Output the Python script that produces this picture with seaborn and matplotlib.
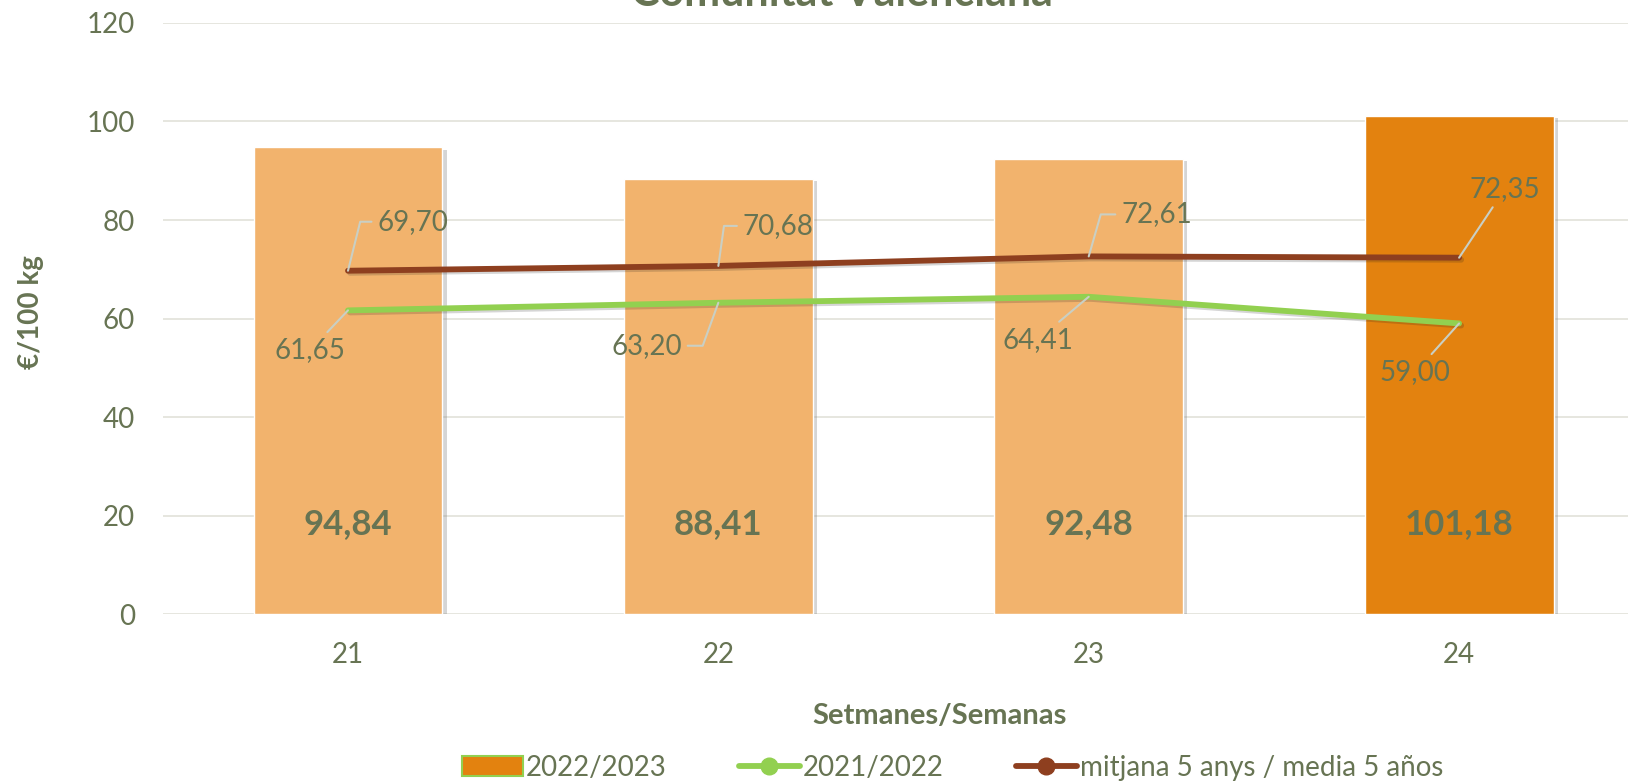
import matplotlib
matplotlib.use("Agg")
import matplotlib.pyplot as plt
import matplotlib.patheffects as pe
from matplotlib.patches import Patch
from matplotlib.lines import Line2D
import numpy as np
import pandas as pd
import seaborn as sns

# ── Data ────────────────────────────────────────────────────────────────────
weeks = ["21", "22", "23", "24"]
price_2223 = [94.84, 88.41, 92.48, 101.18]
price_2122 = [61.65, 63.20, 64.41, 59.00]
avg_5y = [69.70, 70.68, 72.61, 72.35]

TITLE = "Comunitat Valenciana"
SERIES = ["2022/2023", "2021/2022", "mitjana 5 anys / media 5 años"]

# ── Style ───────────────────────────────────────────────────────────────────
TXT = "#677453"
BAR_LIGHT = "#F2B36D"
BAR_DARK = "#E3820F"
GREEN = "#92D050"
BROWN = "#8E3F1F"
LEADER = "#C9CFC4"

sns.set_theme(style="white")
plt.rcParams["font.family"] = ["Lato", "DejaVu Sans"]

fig = plt.figure(figsize=(16.28, 7.82), dpi=100)
ax = fig.add_axes([0.100, 0.2148, 0.910, 0.7558])

df = pd.DataFrame({"week": weeks, "price": price_2223})
bar_colors = [BAR_LIGHT] * (len(weeks) - 1) + [BAR_DARK]
sns.barplot(data=df, x="week", y="price", hue="week", palette=bar_colors,
            legend=False, width=0.51, ax=ax, zorder=2, saturation=1)
for p in ax.patches:
    p.set_path_effects([pe.SimplePatchShadow(offset=(3, -2), shadow_rgbFace="#777777", alpha=0.3),
                        pe.Normal()])

xpos = np.arange(len(weeks))
line_fx = [pe.SimpleLineShadow(offset=(1.5, -1.5), alpha=0.18), pe.Normal()]
sns.lineplot(x=xpos, y=price_2122, color=GREEN, linewidth=4.2, ax=ax, zorder=3,
             path_effects=line_fx, solid_capstyle="round")
sns.lineplot(x=xpos, y=avg_5y, color=BROWN, linewidth=4.2, ax=ax, zorder=3,
             path_effects=line_fx, solid_capstyle="round")

# bar value labels
for i, v in enumerate(price_2223):
    ax.text(i, 18.3, f"{v:.2f}".replace(".", ","), ha="center", va="center",
            fontsize=25, fontweight="bold", color=TXT, zorder=5)

# line value labels with leader lines (offsets in pixels)
green_off = [(-38, -40), (-72, -43), (-51, -43), (-44, -49)]
brown_off = [(65, 49), (60, 40), (68, 42), (46, 69)]
green_conn = ["arc3", "angle,angleA=0,angleB=70,rad=0", "arc3", "arc3"]
brown_conn = ["angle,angleA=0,angleB=76,rad=0", "angle,angleA=0,angleB=82,rad=0",
              "angle,angleA=0,angleB=74,rad=0", "arc3"]
for series, offs, conns in ((price_2122, green_off, green_conn),
                            (avg_5y, brown_off, brown_conn)):
    for i, (v, off, cs) in enumerate(zip(series, offs, conns)):
        ax.annotate(f"{v:.2f}".replace(".", ","), xy=(i, v), xytext=off,
                    textcoords="offset pixels", ha="center", va="center",
                    fontsize=20, color=TXT, zorder=6,
                    arrowprops=dict(arrowstyle="-", color=LEADER, lw=1.5,
                                    shrinkA=2, shrinkB=0, connectionstyle=cs))

ax.set_xlim(-0.5, 3.5)
ax.set_ylim(0, 120)
ax.set_yticks(range(0, 121, 20))
ax.yaxis.grid(True, color="#E4E4DC", linewidth=1.3, zorder=0)
ax.set_axisbelow(True)
for s in ax.spines.values():
    s.set_visible(False)
ax.tick_params(axis="both", length=0, labelsize=20, labelcolor=TXT)
ax.tick_params(axis="x", pad=20)
ax.tick_params(axis="y", pad=20)
ax.set_xlabel("")
ax.set_ylabel("")

fig.text(0.019, 0.601, "€/100 kg", rotation=90, ha="center", va="center",
         fontsize=20, fontweight="bold", color=TXT)
fig.text(0.577, 0.084, "Setmanes/Semanas", ha="center", va="center",
         fontsize=21, fontweight="bold", color=TXT)
fig.text(0.517, 0.9923, TITLE, ha="center", va="baseline",
         fontsize=31, fontweight="bold", color=TXT)

handles = [
    Patch(facecolor=BAR_DARK, edgecolor=GREEN, linewidth=1.5),
    Line2D([], [], color=GREEN, linewidth=4.2, marker="o", markersize=12),
    Line2D([], [], color=BROWN, linewidth=4.2, marker="o", markersize=12),
]
fig.legend(handles, SERIES, loc="center", bbox_to_anchor=(0.585, 0.018), ncol=3,
           frameon=False, fontsize=20, labelcolor=TXT, handlelength=2.2,
           handletextpad=0.1, columnspacing=2.6)

fig.savefig("out.png", dpi=100)
